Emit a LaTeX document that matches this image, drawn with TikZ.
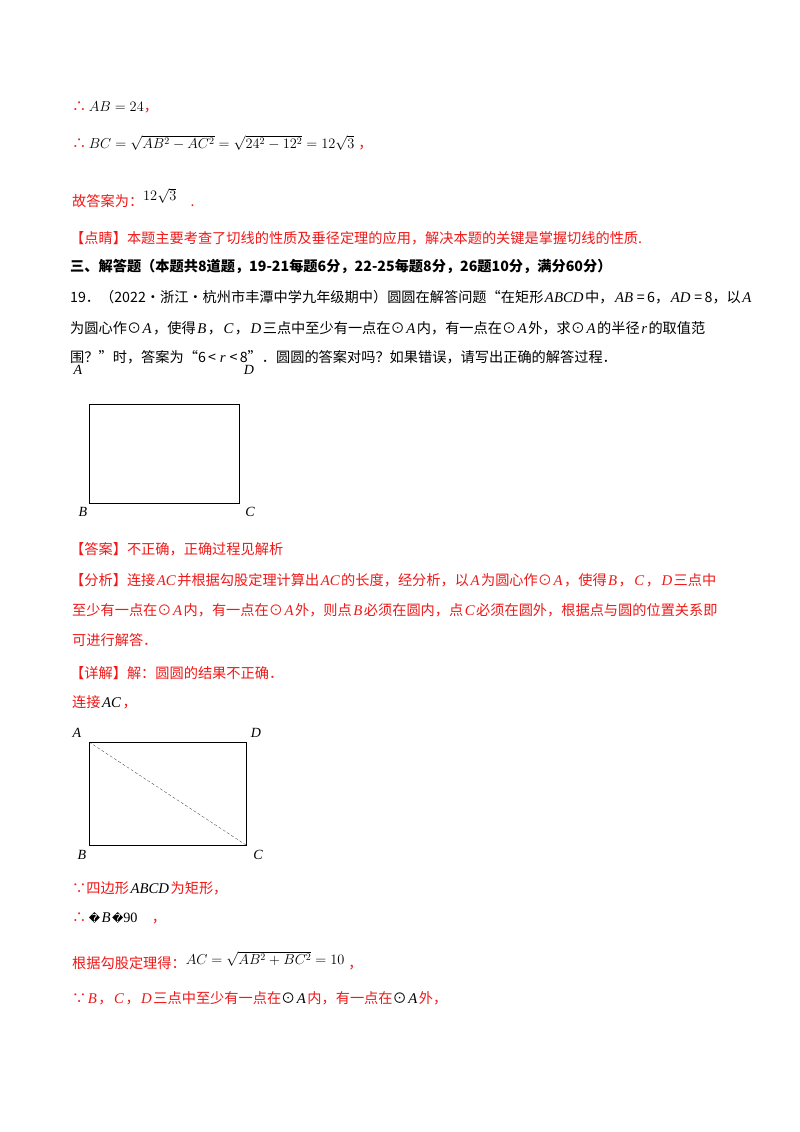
\documentclass[tikz,border=0pt]{standalone}
\usepackage{fontspec}
\setmainfont{Noto Sans CJK SC}
\newfontfamily\lsf{Liberation Serif}
\newfontfamily\dvs{DejaVu Sans}
\definecolor{rd}{HTML}{F01818}
\newcommand{\mi}[1]{\hspace{1.5pt}{\lsf\itshape\fontsize{14.8}{16}\selectfont #1}\hspace{1.5pt}}
\tikzset{t/.style={anchor=west,inner sep=0pt,font=\fontsize{14.2}{16}\selectfont},
 r/.style={t,text=rd}, lab/.style={inner sep=0pt,font=\lsf\itshape\fontsize{14}{16}\selectfont}}
\begin{document}
\begin{tikzpicture}[x=1pt,y=-1pt]
\useasboundingbox (0,0) rectangle (800,1132);
\fill[white] (0,0) rectangle (800,1132);
\node[r] (l1) at (72,107) {∴\,{\color{black}$AB=24$}，};
\node[r] (l2) at (72,143) {∴\,{\color{black}$BC=\sqrt{AB^2-AC^2}=\sqrt{24^2-12^2}=12\sqrt3$}\;，};
\node[r] (l3) at (72,198) {故答案为：\raisebox{6pt}{\color{black}$12\sqrt3$}\quad.};
\node[r] (l4) at (70,238) {【点睛】本题主要考查了切线的性质及垂径定理的应用，解决本题的关键是掌握切线的性质.};
\node[t,font=\bfseries\fontsize{14.2}{16}\selectfont] (l5) at (70,266) {三、解答题（本题共8道题，19-21每题6分，22-25每题8分，26题10分，满分60分）};
\node[t] (l6) at (70,297) {19．（2022·浙江·杭州市丰潭中学九年级期中）圆圆在解答问题“在矩形\mi{ABCD}中，\mi{AB}\,=\,6，\mi{AD}\,=\,8，以\mi{A}};
\node[t] (l7) at (70,328) {为圆心作⊙\mi{A}，使得\mi{B}，\mi{C}，\mi{D}三点中至少有一点在⊙\mi{A}内，有一点在⊙\mi{A}外，求⊙\mi{A}的半径\mi{r}的取值范};
\node[t] (l8) at (70,357) {围？”时，答案为“6\,<\,\mi{r}\,<\,8”．圆圆的答案对吗？如果错误，请写出正确的解答过程．};
% figure 1
\coordinate (A1) at (89,404); \coordinate (D1) at (239,404);
\coordinate (B1) at (89,503); \coordinate (C1) at (239,503);
\draw[thin] (A1) rectangle (C1);
\node[lab] (nA1) at (78,370) {A}; \node[lab] (nD1) at (249,370) {D};
\node[lab] (nB1) at (83,512) {B}; \node[lab] (nC1) at (250,512) {C};
\node[r] (l9) at (70,549) {【答案】不正确，正确过程见解析};
\node[r] (l10) at (70,580) {【分析】连接\mi{AC}并根据勾股定理计算出\mi{AC}的长度，经分析，以\mi{A}为圆心作⊙\mi{A}，使得\mi{B}，\mi{C}，\mi{D}三点中};
\node[r] (l11) at (72,610) {至少有一点在⊙\mi{A}内，有一点在⊙\mi{A}外，则点\mi{B}必须在圆内，点\mi{C}必须在圆外，根据点与圆的位置关系即};
\node[r] (l12) at (72,640) {可进行解答．};
\node[r] (l13) at (70,673) {【详解】解：圆圆的结果不正确．};
\node[r] (l14) at (72,702) {连接{\color{black}\mi{AC}}，};
% figure 2
\coordinate (A2) at (89,742); \coordinate (D2) at (246,742);
\coordinate (B2) at (89,845); \coordinate (C2) at (246,845);
\draw[thin] (A2) rectangle (C2);
\draw[densely dashed,very thin] (A2) -- (C2);
\node[lab] (nA2) at (77,733) {A}; \node[lab] (nD2) at (256,733) {D};
\node[lab] (nB2) at (82,855) {B}; \node[lab] (nC2) at (258,855) {C};
\node[r] (l15) at (72,888) {∵四边形{\color{black}\mi{ABCD}}为矩形，};
\node[r] (l16) at (72,918) {∴\,{\color{black}{\dvs\fontsize{11}{12}\selectfont �}\mi{B}{\dvs\fontsize{11}{12}\selectfont �}{\lsf 90}}\quad，};
\node[r] (l17) at (72,961) {根据勾股定理得：\raisebox{4pt}{\color{black}$AC=\sqrt{AB^2+BC^2}=10$}\;，};
\node[r] (l18) at (72,998) {∵\mi{B}，\mi{C}，\mi{D}三点中至少有一点在{\color{black}⊙\mi{A}}内，有一点在{\color{black}⊙\mi{A}}外，};
\end{tikzpicture}
\end{document}
